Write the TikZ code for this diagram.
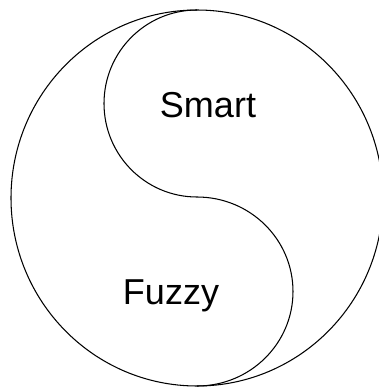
\documentclass[tikz,border=0pt]{standalone}
\usepackage{fontspec}
\setmainfont{Liberation Sans}
\usepackage{tikz}
\definecolor{ink}{HTML}{000000}

\begin{document}
\begin{tikzpicture}[x=0.02cm,y=0.02cm,line width=0.6pt,
  label/.style={font=\fontsize{20.5}{24}\selectfont,text=ink,anchor=base,inner sep=0pt}]
\useasboundingbox (0,0) rectangle (379,387);
\clip (0,0) rectangle (379,387);
% outer ring
\draw[ink] (197,189) ellipse [x radius=186, y radius=188];
% dividing curve
\coordinate (top) at (197,377);
\draw[ink] (top) arc [start angle=90, end angle=270, x radius=93, y radius=93.5]
  coordinate (mid)
  arc [start angle=90, end angle=-90, x radius=96, y radius=94.5] coordinate (bot);
\node[label] (smart) at (208,270) {Smart};
\node[label] (fuzzy) at (171,83) {Fuzzy};
\end{tikzpicture}
\end{document}
